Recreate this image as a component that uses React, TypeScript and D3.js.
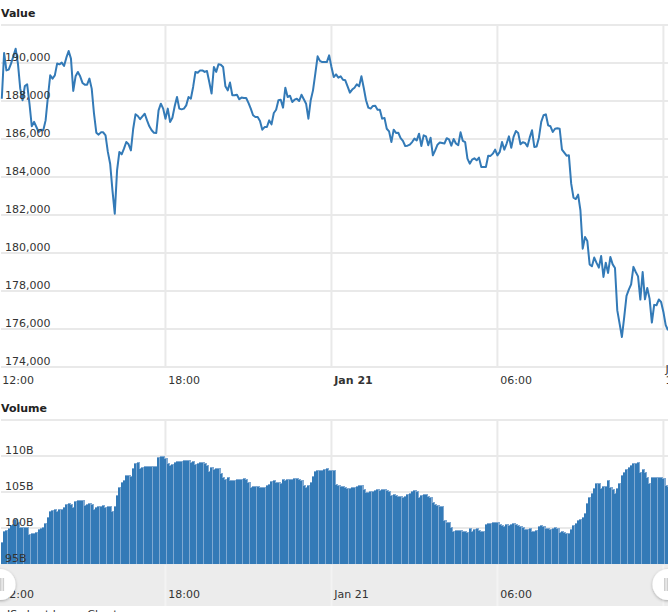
import React from "react";
import * as d3 from "d3";

const priceA = [188120,190530,189610,189650,189965,190350,190750,189965,188650,188035,188790,188880,187860,186670,186900,186630,186370,186490,186460,186980,188210,189350,189180,189350,189970,189930,190020,189840,190280,190630,190230,188530,189300,189530,189300,188950,188860,188860,189180,188650,187330,186330,186230,186350,186350,186190,185320,184700,183300,182070,184350,185320,185190,185490,185840,185720,185400,186540,187300,187210,187040,187190,187330,186980,186670,186460,186330,186320,187510,187860,187600,187070,187600,186900,187120,187720,188210,187600,187560,187600,187770,188210,188120,188740,189530,189490,189610,189610,189530,189580,189000,188390,189790,189530,189930,189910,189790,188770,188560,188970,188300,188300,188330,188090,188180,188160,188160,187900,187600,187250,187160,187160,186950,186490,186630,186630,186980,186770,187370,187540,188040,188070,187650,188700,188210,188280,187950,188070,188120,188000,188330,188090,187860,187070,188040,188560,189440,190350,190110,190050,190050,190050,190400,189790,189260,189400];
const priceB = [189230,189300,189120,189090,188770,188440,188600,188700,188880,188770,189300,188700,188040,187650,187600,187740,187750,187540,187540,187070,187110,186540,186400,185840,186490,186320,186330,186050,185900,185630,185650,185700,185840,186020,185930,186280,185630,186190,186140,185670,186070,185140,185400,185700,185810,185790,185760,186040,185980,185650,186000,185760,185670,186350,185900,185830,184970,184700,184910,184980,184880,185020,184530,184530,184530,185120,185110,185230,185440,185140,185320,185840,185440,185760,186140,185540,186110,186420,186320,185720,185830,185790,185610,186070,186460,185580,185610,186070,186900,187250,187300,186720,186670,186370,186540,186560,186540,185440,185280,185120,185140,183650,182910,182840,183070,182250,180230,180840,180630,179400,179300,179760,179480,179230,179840,178740,179490,178950,179790,179400,179210,176980,176280,175580,176630,177740,178070,178350,179270,179000,178770,177550,179000,177560,178160,177600,176340,177270,177250,177550,177420,176900,176200,175930];
const volumeA = [98.1,99.6,99.7,100,100.4,100.6,101.2,100.9,100.2,100.1,100.2,100.2,99.2,99.35,99.35,99.5,99.8,100,100.1,100.65,101.5,102.3,102.5,102.6,102.4,102.6,102.7,102.9,103.3,103.5,103.4,102.9,103.75,103.9,103.85,103.9,103.2,103.4,103.5,103.3,102.6,102.9,103,103.1,103.15,102.9,103.05,103.05,102.3,103,104.6,105.65,106.45,106.65,107.3,107.4,107.25,108.3,109,109.1,108.4,108.5,108.65,108.55,108.55,108.55,108.55,108.55,109.85,109.95,109.95,109.7,109.05,108.8,108.9,109.15,109.35,109.25,109.35,109.4,109.5,109.45,109.15,109.3,108.95,109.05,109.1,109.1,109,108.7,107.95,108.5,108.15,108.35,108.4,107.7,107.15,106.75,107.05,106.6,106.65,106.6,106.75,106.8,106.85,106.9,106.85,106.35,105.65,105.8,105.8,105.8,105.75,105.65,105.7,106,106.1,106.55,106.6,106.45,106.35,106.25,106.75,106.7,106.75,106.75,106.85,106.9,106.9,106.85,106.65,106,105.65,106,106.45,107.2,107.95,108,108,108,108.15,108.3,108.05,108.1,108];
const volumeB = [106.05,106,105.9,105.85,105.75,105.5,105.5,105.7,105.75,105.8,106,106,105.35,104.95,105.05,105.15,105.2,105.25,105.35,105.3,105.35,105.35,105.3,105.2,104.6,104.7,104.55,104.5,104.45,104.35,104.45,104.7,104.9,105.2,105.25,105.2,104.35,104.6,104.7,104.7,104.45,104.25,103.65,103.3,103.15,103.05,103,101.1,100.9,100.8,100.2,99.6,99.7,99.75,99.7,99.6,99.55,99.5,100.05,99.6,99.8,100,99.7,99.6,99.6,100.55,100.65,100.7,100.85,100.9,100.9,100.55,100.4,100.3,100.6,100.35,100.5,100.65,100.55,100.35,100.3,100.15,99.8,99.8,100,99.55,99.55,99.7,100.3,100.35,100.3,100.05,100,99.9,100.05,100.1,100.05,99.4,99.55,99.45,99.25,99.25,99.8,100.4,100.65,101.1,101.2,101.55,102.15,103.5,104.35,104.8,105.5,106.3,106.3,105.5,105.9,105.85,106.65,105.75,105.35,104.8,105.5,106.3,107.35,107.8,108.2,108.5,108.75,109,109.05,109.1,107.8,108.15,107.8,107.15,106.3,107.05,107.05,107.15,107.15,107.05,106.95,105.95,105.9];
const priceTicks = [192000,190000,188000,186000,184000,182000,180000,178000,176000,174000];
const volumeTicks = [115,110,105,100,95];
const timeTicks = [
  { hour: 0, label: "12:00", bold: false },
  { hour: 6, label: "18:00", bold: false },
  { hour: 12, label: "Jan 21", bold: true },
  { hour: 18, label: "06:00", bold: false },
  { hour: 24, label: "Jan 21", bold: false },
];

const prices = [...priceA, ...priceB];
const volumes = [...volumeA, ...volumeB];
const STEP_HOURS = 5 / 60;

const x = d3.scaleLinear().domain([0, 24]).range([-0.5, 663.4]);
const yPrice = d3.scaleLinear().domain([174000, 192000]).range([367, 25]);
const yVol = d3.scaleLinear().domain([95, 115]).range([564, 420]);
const GRID = "#e9e9e9";
const BLUE = "#337ab7";
const TEXT = "#333333";
const font = "'DejaVu Sans', Verdana, sans-serif";

const linePath = d3
  .line<number>()
  .x((_, i) => x((i + 1) * STEP_HOURS))
  .y((d) => yPrice(d))(prices) as string;

export default function App() {
  const bw = x(STEP_HOURS) - x(0);
  const fmt = d3.format(",");
  return (
    <svg
      width={668}
      height={612}
      viewBox="0 0 668 612"
      style={{ position: "fixed", left: 0, top: 0, display: "block" }}
      fontFamily={font}
      fontSize={11}
    >
      <defs>
        <filter id="handleShadow" x="-40%" y="-40%" width="180%" height="180%">
          <feDropShadow dx="0" dy="1" stdDeviation="1.5" floodColor="#000" floodOpacity="0.3" />
        </filter>
      </defs>
      <rect width={668} height={612} fill="#fff" />

      <text x={1} y={17} fontWeight="bold" fill="#222">Value</text>
      {priceTicks.map((t) => (
        <line key={t} x1={1} x2={668} y1={yPrice(t)} y2={yPrice(t)} stroke={GRID} strokeWidth={2} />
      ))}
      {timeTicks.slice(1).map((t) => (
        <line key={t.hour} x1={x(t.hour)} x2={x(t.hour)} y1={25} y2={367} stroke={GRID} strokeWidth={2} />
      ))}
      <path d={linePath} fill="none" stroke={BLUE} strokeWidth={2} strokeLinejoin="round" />
      {priceTicks.slice(1).map((t) => (
        <text key={t} x={5} y={yPrice(t) - 2.5} fill={TEXT}>{fmt(t)}</text>
      ))}
      {timeTicks.map((t, i) =>
        i < 4 ? (
          <text key={t.hour} x={x(t.hour) + 2.8} y={384} fill={TEXT} fontWeight={t.bold ? "bold" : "normal"}>{t.label}</text>
        ) : (
          <text key={t.hour} x={x(t.hour) + 2} y={373} fill={TEXT}>
            <tspan x={x(t.hour) + 2}>{t.label}</tspan>
            <tspan x={x(t.hour) + 2} dy={11}>12:00</tspan>
          </text>
        )
      )}

      <text x={1} y={412} fontWeight="bold" fill="#222">Volume</text>
      {volumeTicks.map((t) => (
        <line key={t} x1={1} x2={668} y1={yVol(t)} y2={yVol(t)} stroke={GRID} strokeWidth={2} />
      ))}
      {timeTicks.slice(1).map((t) => (
        <line key={t.hour} x1={x(t.hour)} x2={x(t.hour)} y1={420} y2={564} stroke={GRID} strokeWidth={2} />
      ))}
      <g shapeRendering="crispEdges">
        {volumes.map((v, i) => {
          const left = x((i + 1) * STEP_HOURS) - bw / 2;
          return (
            <rect key={"u" + i} x={left} y={yVol(v)} width={bw + 1} height={yVol(95) - yVol(v)} fill="#7fa9d2" />
          );
        })}
        {volumes.map((v, i) => {
          const left = x((i + 1) * STEP_HOURS) - bw / 2;
          return (
            <rect key={"b" + i} x={left} y={yVol(v) + 1} width={2} height={yVol(95) - yVol(v) - 1} fill={BLUE} />
          );
        })}
      </g>
      {volumeTicks.slice(1).map((t) => (
        <text key={t} x={5} y={yVol(t) - 2.5} fill={TEXT}>{t}B</text>
      ))}

      <rect x={0} y={564.5} width={668} height={41.5} fill="#ececec" />
      {timeTicks.slice(1).map((t) => (
        <line key={t.hour} x1={x(t.hour)} x2={x(t.hour)} y1={565} y2={606} stroke="#f3f3f3" strokeWidth={2} />
      ))}
      {timeTicks.slice(0, 4).map((t) => (
        <text key={t.hour} x={x(t.hour) + 2.8} y={598} fill={TEXT}>{t.label}</text>
      ))}
      <text x={7} y={618} fontSize={11} fill={TEXT}>JS chart by amCharts</text>

      {[0, 668].map((cx) => (
        <g key={cx}>
          <circle cx={cx} cy={584.5} r={15.5} fill="#fff" filter="url(#handleShadow)" />
          <rect x={cx === 0 ? 0 : 664} y={578} width={1.6} height={13} fill="#cfcfcf" />
          <rect x={cx === 0 ? 2.5 : 666.5} y={578} width={1.6} height={13} fill="#cfcfcf" />
        </g>
      ))}
    </svg>
  );
}
